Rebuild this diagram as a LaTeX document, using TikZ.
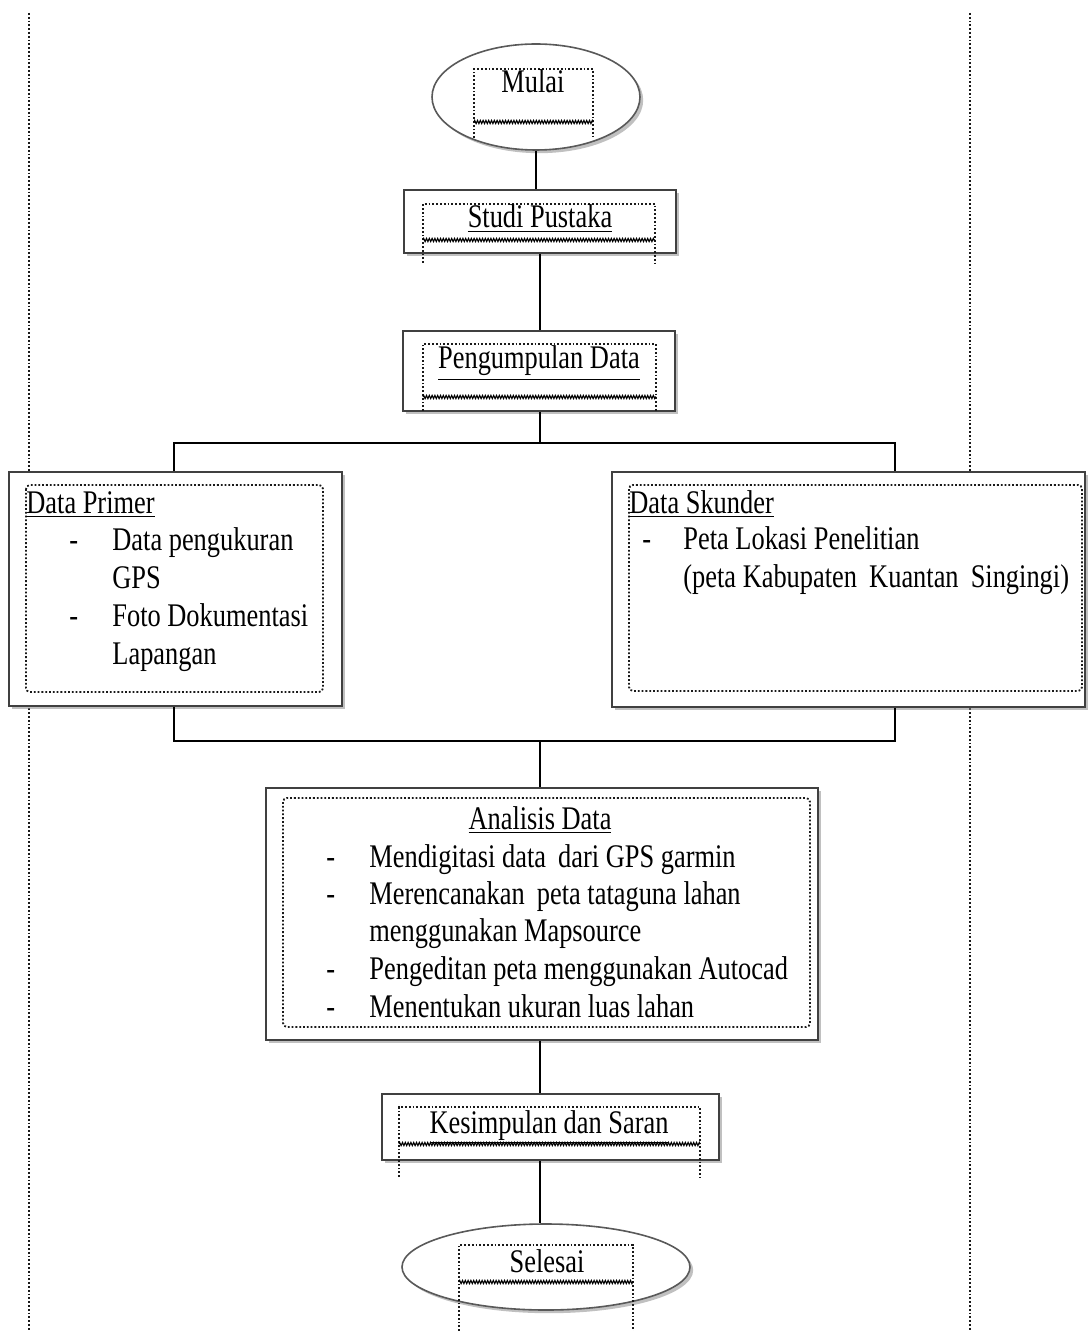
\documentclass[tikz,border=0pt]{standalone}
\usepackage{fontspec}
\setmainfont{Liberation Serif}[FakeStretch=0.80]
\usetikzlibrary{shapes.geometric,shadows,decorations.pathmorphing,calc}

\tikzset{
  bayang/.style={drop shadow={shadow xshift=1.6pt, shadow yshift=-1.6pt, fill=black!45, opacity=0.55}},
  kotak/.style={rectangle, draw=black!75, line width=0.8pt, fill=white, inner sep=0pt, bayang},
  lonjong/.style={ellipse, draw=black!65, line width=0.8pt, fill=white, inner sep=0pt, bayang},
  garis/.style={line width=0.8pt, black},
  titik/.style={densely dotted, line width=0.9pt, black!90},
  gerigi/.style={decorate, decoration={zigzag, segment length=1.4pt, amplitude=0.8pt}, line width=0.55pt, black},
  teks/.style={inner sep=0pt, font=\fontsize{16.5}{19}\selectfont}
}

\begin{document}
\begin{tikzpicture}[x=0.5pt,y=-0.5pt]
    \useasboundingbox (0,0) rectangle (1087,1331);

    % page margins
    \draw[titik] (29,13) -- (29,1331);
    \draw[titik] (970,13) -- (970,1331);

    % start
    \node[lonjong, minimum width=104pt, minimum height=53pt] (mulai) at (536,97) {};
    \draw[titik] (474,138) -- (474,69) -- (593,69) -- (593,138);
    \draw[gerigi] (474,122) -- (593,122);
    \node[teks, anchor=base] (tMulai) at (533,93) {Mulai};

    % literature study
    \node[kotak, minimum width=136pt, minimum height=31.5pt] (studi) at (540,221.5) {};
    \draw[titik] (423,263) -- (423,204) -- (655,204) -- (655,263);
    \draw[gerigi] (423,240) -- (655,240);
    \node[teks, anchor=base] (tStudi) at (540,228) {\underline{Studi Pustaka}};

    % data collection
    \node[kotak, minimum width=136pt, minimum height=40pt] (kumpul) at (539,371) {};
    \draw[titik] (423,411) -- (423,344) -- (656,344) -- (656,411);
    \draw[gerigi] (423,397) -- (656,397);
    \node[teks, anchor=base] (tKumpul) at (539,369) {\underline{Pengumpulan Data}};

    % primary data
    \node[kotak, minimum width=166.5pt, minimum height=117pt] (primer) at (175.5,589) {};
    \draw[titik, rounded corners=2pt] (26,485) rectangle (323,692);
    \node[teks, anchor=base west] (tPrimer) at (26,513) {\underline{Data Primer}};
    \node[teks, anchor=base west] (dPrimer1) at (69,550) {-};
    \node[teks, anchor=base west] (lPrimer1) at (112,550) {Data pengukuran};
    \node[teks, anchor=base west] (lPrimer2) at (112,588) {GPS};
    \node[teks, anchor=base west] (dPrimer2) at (69,626) {-};
    \node[teks, anchor=base west] (lPrimer3) at (112,626) {Foto Dokumentasi};
    \node[teks, anchor=base west] (lPrimer4) at (112,664) {Lapangan};

    % secondary data
    \node[kotak, minimum width=236.5pt, minimum height=117.5pt] (skunder) at (848.5,589.5) {};
    \draw[titik, rounded corners=2pt] (629,485) rectangle (1082,691);
    \node[teks, anchor=base west] (tSkunder) at (629,513) {\underline{Data Skunder}};
    \node[teks, anchor=base west] (dSkunder1) at (642,549) {-};
    \node[teks, anchor=base west] (lSkunder1) at (683,549) {Peta Lokasi Penelitian};
    \node[teks, anchor=base west] (lSkunder2) at (683,587) {(peta Kabupaten\, Kuantan\, Singingi)};

    % branches
    \coordinate (cabang) at (540,443);
    \coordinate (cabangKiri) at (174,443);
    \coordinate (cabangKanan) at (895,443);
    \draw[garis] (kumpul.south -| cabang) -- (cabang);
    \draw[garis] (cabangKiri |- primer.north) -- (cabangKiri) -- (cabangKanan) -- (cabangKanan |- skunder.north);

    \coordinate (gabung) at (540,741);
    \coordinate (gabungKiri) at (174,741);
    \coordinate (gabungKanan) at (895,741);
    \draw[garis] (gabungKiri |- primer.south) -- (gabungKiri) -- (gabungKanan) -- (gabungKanan |- skunder.south);

    % analysis
    \node[kotak, minimum width=276pt, minimum height=126pt] (analisis) at (542,914) {};
    \draw[titik, rounded corners=2pt] (283,798) rectangle (810,1027);
    \node[teks, anchor=base] (tAnalisis) at (540,829) {\underline{Analisis Data}};
    \foreach \y in {867,904,979,1017}
        \node[teks, anchor=base west] (dAnalisis\y) at (326,\y) {-};
    \node[teks, anchor=base west] (lAnalisis1) at (369,867) {Mendigitasi data\, dari GPS garmin};
    \node[teks, anchor=base west] (lAnalisis2) at (369,904) {Merencanakan\, peta tataguna lahan};
    \node[teks, anchor=base west] (lAnalisis3) at (369,941) {menggunakan Mapsource};
    \node[teks, anchor=base west] (lAnalisis4) at (369,979) {Pengeditan peta menggunakan Autocad};
    \node[teks, anchor=base west] (lAnalisis5) at (369,1017) {Menentukan ukuran luas lahan};
    \draw[garis] (gabung) -- (gabung |- analisis.north);

    % conclusion
    \node[kotak, minimum width=168.5pt, minimum height=33pt] (simpul) at (550.5,1127) {};
    \draw[titik] (399,1177) -- (399,1107) -- (700,1107) -- (700,1177);
    \draw[gerigi] (399,1144) -- (700,1144);
    \node[teks, anchor=base] (tSimpul) at (549,1133) {\underline{Kesimpulan dan Saran}};
    \draw[garis] (gabung |- analisis.south) -- (gabung |- simpul.north);

    % end
    \node[lonjong, minimum width=144pt, minimum height=43pt] (selesai) at (546,1267) {};
    \draw[titik] (459,1331) -- (459,1245) -- (633,1245) -- (633,1331);
    \draw[gerigi] (459,1282) -- (633,1282);
    \node[teks, anchor=base] (tSelesai) at (547,1272) {Selesai};
    \draw[garis] (gabung |- simpul.south) -- (gabung |- selesai.north);

    \draw[garis] (mulai.south) -- (mulai.south |- studi.north);
    \draw[garis] (gabung |- studi.south) -- (gabung |- kumpul.north);
\end{tikzpicture}
\end{document}
